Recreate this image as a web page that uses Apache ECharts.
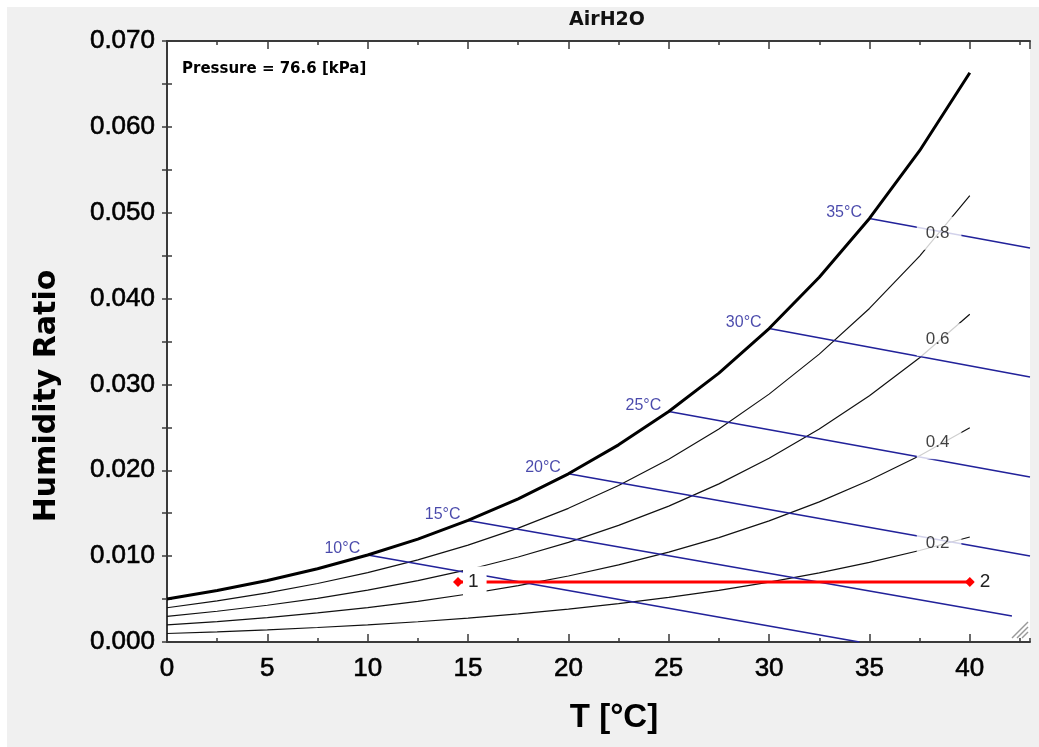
<!DOCTYPE html>
<html>
<head>
<meta charset="utf-8">
<script src="https://cdn.jsdelivr.net/npm/echarts@6/dist/echarts.min.js"></script>
<style>
html,body{margin:0;padding:0;background:#fff;}
#c{width:1039px;height:747px;}
</style>
</head>
<body>
<div id="c"></div>
<script>
// Dry-bulb temperatures [°C]
const T = [0,2.5,5,7.5,10,12.5,15,17.5,20,22.5,25,27.5,30,32.5,35,37.5,40];
// Humidity ratio along saturation and relative-humidity curves
const wSat  = [0.00500,0.00599,0.00716,0.00854,0.01013,0.01199,0.01416,0.01668,0.01959,0.02296,0.02684,0.03131,0.03651,0.04248,0.04933,0.05722,0.06630];
const wRH80 = [0.00399,0.00479,0.00572,0.00681,0.00808,0.00956,0.01128,0.01327,0.01557,0.01823,0.02129,0.02480,0.02887,0.03353,0.03885,0.04495,0.05198];
const wRH60 = [0.00299,0.00358,0.00428,0.00509,0.00604,0.00714,0.00842,0.00990,0.01161,0.01358,0.01583,0.01842,0.02140,0.02481,0.02869,0.03311,0.03818];
const wRH40 = [0.00199,0.00238,0.00285,0.00339,0.00401,0.00474,0.00559,0.00657,0.00769,0.00899,0.01047,0.01216,0.01411,0.01632,0.01884,0.02169,0.02495];
const wRH20 = [0.00099,0.00119,0.00142,0.00169,0.00200,0.00236,0.00278,0.00327,0.00382,0.00446,0.00519,0.00602,0.00698,0.00806,0.00928,0.01066,0.01223];
const rhCurves = [wRH80, wRH60, wRH40, wRH20];
const rhLabels = ['0.8','0.6','0.4','0.2'];
const rhLabelT = [38.47,38.47,38.47,38.47];
const rhLabelW = [0.0476,0.0352,0.0232,0.0115];
// Wet-bulb lines: start on saturation, end
const wbLabels = ['10°C','15°C','20°C','25°C','30°C','35°C'];
const wbStartT = [10,15,20,25,30,35];
const wbStartW = [0.01013,0.01416,0.01959,0.02684,0.03651,0.04933];
const wbEndT   = [34.5,42.1,43,43,43,43];
const wbEndW   = [0.0000,0.00303,0.01002,0.01922,0.03086,0.04589];
// Process 1 -> 2
const procT = [14.5,40];
const procW = [0.0070,0.0070];
const procLabels = ['1','2'];
// Axis tick labels
const xTickLabels = ['0','5','10','15','20','25','30','35','40'];

const chart = echarts.init(document.getElementById('c'));
const frame = {show:true, lineStyle:{color:'#3a3a3a', width:2}};
const noLine = {show:false};
const xBase = {type:'value', min:0, max:43, splitLine:{show:false}, gridIndex:0};
const yBase = {type:'value', min:0, max:0.07, interval:0.01, splitLine:{show:false}};
const tickFont = {fontFamily:'Liberation Sans', fontSize:26, color:'#000', textBorderColor:'#000', textBorderWidth:0.6};

const series = [];
series.push({type:'line', xAxisIndex:0, yAxisIndex:0, data:T.map((t,i)=>[t,wSat[i]]),
  symbol:'none', smooth:false, lineStyle:{color:'#000', width:3}, z:4, silent:true});
rhCurves.forEach(c=>{
  series.push({type:'line', xAxisIndex:0, yAxisIndex:0, data:T.map((t,i)=>[t,c[i]]),
    symbol:'none', smooth:false, lineStyle:{color:'#111', width:1.2}, z:2, silent:true});
});
wbLabels.forEach((l,i)=>{
  series.push({type:'line', xAxisIndex:0, yAxisIndex:0,
    data:[[wbStartT[i],wbStartW[i]],[wbEndT[i],wbEndW[i]]],
    symbol:'none', lineStyle:{color:'#22229a', width:1.6}, z:2, silent:true});
});
// wet-bulb labels
series.push({type:'scatter', xAxisIndex:0, yAxisIndex:0,
  data:wbStartT.map((t,i)=>[t,wbStartW[i]]), symbolSize:1, itemStyle:{color:'rgba(0,0,0,0)'},
  label:{show:true, position:'left', distance:7, offset:[0,-6], formatter:p=>wbLabels[p.dataIndex],
    fontFamily:'Liberation Sans', fontSize:16, color:'#1c1c96'}, z:6, silent:true});
// RH labels with white boxes
series.push({type:'scatter', xAxisIndex:0, yAxisIndex:0,
  data:rhLabelT.map((t,i)=>[t,rhLabelW[i]]), symbolSize:1, itemStyle:{color:'rgba(0,0,0,0)'},
  label:{show:true, position:'inside', formatter:p=>rhLabels[p.dataIndex],
    fontFamily:'Liberation Sans', fontSize:17, color:'#111', backgroundColor:'#fff', padding:[8,12,8,9]}, z:10, silent:true});
// process line
series.push({type:'line', xAxisIndex:0, yAxisIndex:0, data:procT.map((t,i)=>[t,procW[i]]),
  symbol:'diamond', symbolSize:10, showSymbol:true, itemStyle:{color:'#ff0000'},
  lineStyle:{color:'#ff0000', width:3},
  label:{show:true, position:'right', distance:0, formatter:p=>procLabels[p.dataIndex],
    fontFamily:'Liberation Sans', fontSize:19, color:'#222', backgroundColor:'#fff', padding:[6,8,6,5]},
  z:12, silent:true});

chart.setOption({
  animation:false,
  backgroundColor:'#f0f0f0',
  grid:{left:167, top:41, width:863, height:601, containLabel:false, show:true, backgroundColor:'#fff', borderWidth:0},
  xAxis:[
    Object.assign({}, xBase, {position:'bottom', interval:5, axisLine:frame,
      axisTick:{show:true, inside:true, length:8, lineStyle:{color:'#3a3a3a', width:1.5}},
      axisLabel:Object.assign({show:true, showMaxLabel:false, margin:14,
        formatter:v=>{const k=Math.round(v/5); return (Math.abs(v-k*5)<1e-6 && k<xTickLabels.length)? xTickLabels[k] : '';}}, tickFont)}),
    Object.assign({}, xBase, {position:'bottom', interval:2.5, axisLine:noLine,
      axisTick:{show:true, inside:true, length:4, lineStyle:{color:'#3a3a3a', width:1.5}}, axisLabel:{show:false}}),
    Object.assign({}, xBase, {position:'top', interval:5, axisLine:frame,
      axisTick:{show:true, inside:true, length:8, lineStyle:{color:'#3a3a3a', width:1.5}}, axisLabel:{show:false}}),
    Object.assign({}, xBase, {position:'top', interval:2.5, axisLine:noLine,
      axisTick:{show:true, inside:true, length:4, lineStyle:{color:'#3a3a3a', width:1.5}}, axisLabel:{show:false}})
  ],
  yAxis:[
    Object.assign({}, yBase, {position:'left', axisLine:frame,
      axisTick:{show:true, inside:true, length:5, lineStyle:{color:'#3a3a3a', width:1.5}},
      minorTick:{show:true, splitNumber:2, length:5, lineStyle:{color:'#3a3a3a', width:1.5}},
      axisLabel:Object.assign({show:true, margin:12, formatter:v=>v.toFixed(3)}, tickFont)}),
    Object.assign({}, yBase, {position:'right', axisLine:frame,
      axisTick:{show:true, inside:true, length:5, lineStyle:{color:'#3a3a3a', width:1.5}},
      minorTick:{show:true, splitNumber:2, length:5, lineStyle:{color:'#3a3a3a', width:1.5}},
      axisLabel:{show:false}})
  ],
  graphic:[
    {type:'rect', shape:{x:0,y:0,width:1039,height:7}, style:{fill:'#fff'}, silent:true, z:-10},
    {type:'rect', shape:{x:0,y:0,width:7,height:747}, style:{fill:'#fff'}, silent:true, z:-10},
    {type:'text', x:607, y:20, style:{text:'AirH2O', font:'bold 19px "DejaVu Sans"', fill:'#111', align:'center', verticalAlign:'middle'}},
    {type:'text', x:182, y:69, style:{text:'Pressure = 76.6 [kPa]', font:'bold 15px "DejaVu Sans"', fill:'#000', align:'left', verticalAlign:'middle'}, z:20},
    {type:'text', x:47, y:396, rotation:Math.PI/2, style:{text:'Humidity Ratio', font:'bold 30px "DejaVu Sans"', fill:'#000', align:'center', verticalAlign:'middle'}},
    {type:'text', x:614, y:718, style:{text:'T [°C]', font:'bold 33px "Liberation Sans"', fill:'#000', align:'center', verticalAlign:'middle'}},
    {type:'line', shape:{x1:1028,y1:622,x2:1012,y2:638}, style:{stroke:'#999', lineWidth:1.5}, z:20},
    {type:'line', shape:{x1:1028,y1:627,x2:1017,y2:638}, style:{stroke:'#999', lineWidth:1.5}, z:20},
    {type:'line', shape:{x1:1028,y1:632,x2:1022,y2:638}, style:{stroke:'#999', lineWidth:1.5}, z:20}
  ],
  series:series
});
</script>
</body>
</html>
